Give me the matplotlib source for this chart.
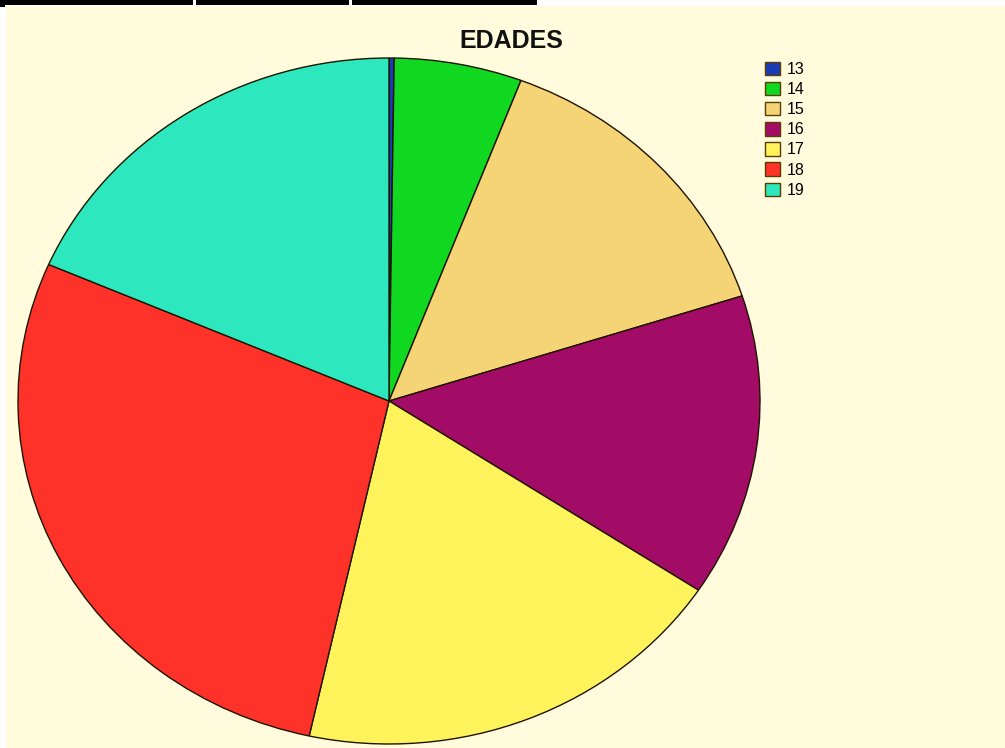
import matplotlib.pyplot as plt
from matplotlib.patches import Rectangle

# distribucion de edades
edades = ['13', '14', '15', '16', '17', '18', '19']
conteos = [1, 25, 64, 64, 86, 126, 83]
colores = ['#1a3db5', '#10d820', '#f5d476', '#a30c66', '#fff35c', '#ff3229', '#2de8be']

W, H = 1005, 748
fig = plt.figure(figsize=(W / 100, H / 100), dpi=100, facecolor='white')

# fondo crema y borde negro de arriba
fig.patches.append(Rectangle((6 / W, 0), 1 - 6 / W, 1 - 6 / H, transform=fig.transFigure,
                             facecolor='#fffbdc', edgecolor='none', zorder=-10))
for x0, x1 in [(0, 193), (196, 349), (352, 537)]:
    fig.patches.append(Rectangle((x0 / W, 1 - 5 / H), (x1 - x0) / W, 5 / H, transform=fig.transFigure,
                                 facecolor='black', edgecolor='none', zorder=-5))
fig.patches.append(Rectangle((0, 1 - 7 / H), 5 / W, 7 / H, transform=fig.transFigure,
                             facecolor='black', edgecolor='none', zorder=-5))

# el pastel ocupa una caja mas ancha que alta, queda eliptico
left, right, top, bottom = 18, 760, 58, 744
ax = fig.add_axes([left / W, 1 - bottom / H, (right - left) / W, (bottom - top) / H])
ax.set_zorder(2)
ax.set_facecolor('none')
wedges, _ = ax.pie(conteos, colors=colores, startangle=90, counterclock=False,
                   wedgeprops=dict(edgecolor='#1e1400', linewidth=1.0))
ax.set_aspect('auto')
ax.set_xlim(-1, 1)
ax.set_ylim(-1, 1)
ax.axis('off')

fig.text(511 / W, 1 - 41 / H, 'EDADES', ha='center', va='center', fontsize=18,
         fontweight='bold', family='Liberation Sans', color='#111111')

leg = fig.legend(wedges, edades, loc='upper left', bbox_to_anchor=(765 / W, 1 - 62 / H),
                 frameon=False, handlelength=0.95, handleheight=0.9,
                 handletextpad=0.4, labelspacing=0.31, borderpad=0, borderaxespad=0,
                 prop={'family': 'Liberation Sans', 'size': 11.5})
for h in leg.legend_handles:
    h.set_edgecolor('#5a3b00')
leg.set_zorder(3)

fig.savefig('out.png', dpi=100, facecolor=fig.get_facecolor())
